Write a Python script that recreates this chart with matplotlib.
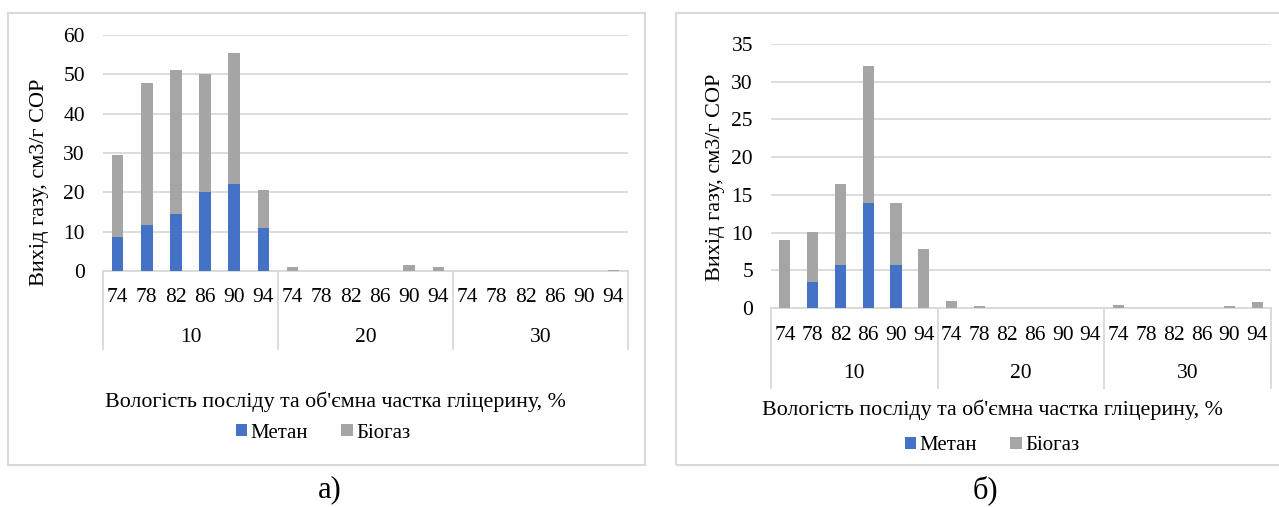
import numpy as np
import matplotlib
matplotlib.use("Agg")
import matplotlib.pyplot as plt
from matplotlib.patches import Rectangle
from matplotlib.lines import Line2D

plt.rcParams['font.family'] = ['Liberation Serif', 'DejaVu Serif']

W, H = 1279, 507

# moisture of the litter (%) inside each glycerol share group (%)
moisture = ["74", "78", "82", "86", "90", "94"]
glycerol = ["10", "20", "30"]

# panel a) gas yield, cm3/g COP
methaneA = [8.7, 11.7, 14.4, 20.0, 22.0, 11.0,
            0, 0, 0, 0, 0, 0,
            0, 0, 0, 0, 0, 0]
biogasA = [20.8, 36.0, 36.6, 30.0, 33.3, 9.6,
           1.0, 0, 0, 0, 1.5, 1.1,
           0, 0, 0, 0, 0, 0.3]

# panel б)
methaneB = [0, 3.5, 5.65, 13.9, 5.65, 0,
            0, 0, 0, 0, 0, 0,
            0, 0, 0, 0, 0, 0]
biogasB = [9.0, 6.55, 10.75, 18.2, 8.25, 7.8,
           0.9, 0.25, 0, 0, 0, 0,
           0.4, 0, 0, 0, 0.25, 0.75]

BLUE = "#4472C4"
GREY = "#A5A5A5"
LINE = "#D9D9D9"


def figRect(x0, y0, x1, y1):
    # pixel box (top-left origin) -> figure fraction
    return [x0 / W, 1 - y1 / H, (x1 - x0) / W, (y1 - y0) / H]


def drawPanel(fig, box, methane, biogas, ymax, ystep, tickRow, groupRow, lineEnd,
              ylab, xlab, legY, legX, tag, tagX):
    x0, y0, x1, y1 = box
    ax = fig.add_axes(figRect(x0, y0, x1, y1))
    n = len(methane)
    pos = np.arange(n)
    ax.bar(pos, methane, width=0.4, color=BLUE, label="Метан", zorder=3)
    ax.bar(pos, biogas, width=0.4, bottom=methane, color=GREY, label="Біогаз", zorder=3)
    ax.set_xlim(-0.5, n - 0.5)
    ax.set_ylim(0, ymax)
    ax.set_yticks(np.arange(0, ymax + 0.1, ystep))
    ax.yaxis.grid(True, color=LINE, lw=1.3, zorder=0)
    ax.set_axisbelow(True)
    for s in ["top", "right", "left"]:
        ax.spines[s].set_visible(False)
    ax.spines["bottom"].set_color(LINE)
    ax.spines["bottom"].set_linewidth(1.3)
    ax.set_xticks([])
    ax.tick_params(axis="y", length=0, pad=13, labelsize=15.5)

    axH = y1 - y0
    # two-level category labels
    labels = moisture * len(glycerol)
    for i in range(n):
        ax.text(i, -(tickRow - y1) / axH, labels[i], transform=ax.get_xaxis_transform(),
                ha="center", va="center", fontsize=15.5)
    for g in range(len(glycerol)):
        ax.text(g * 6 + 2.5, -(groupRow - y1) / axH, glycerol[g],
                transform=ax.get_xaxis_transform(), ha="center", va="center", fontsize=15.5)
    for g in range(len(glycerol) + 1):
        ax.add_line(Line2D([g * 6 - 0.5, g * 6 - 0.5], [0, -(lineEnd - y1) / axH],
                           transform=ax.get_xaxis_transform(), color=LINE, lw=1.3,
                           clip_on=False))

    fig.text(ylab[0] / W, 1 - ylab[1] / H, "Вихід газу, см3/г СОР", rotation=90,
             ha="center", va="center", fontsize=16)
    fig.text(xlab[0] / W, 1 - xlab[1] / H,
             "Вологість посліду та об'ємна частка гліцерину, %",
             ha="center", va="center", fontsize=15.8)
    fig.legend(*ax.get_legend_handles_labels(), loc="center", ncol=2,
               bbox_to_anchor=(legX / W, 1 - legY / H), frameon=False, fontsize=15,
               handlelength=0.55, handleheight=0.55, handletextpad=0.15, columnspacing=1.6)
    fig.text(tagX / W, 1 - 490 / H, tag, ha="center", va="center", fontsize=22)
    return ax


fig = plt.figure(figsize=(W / 100, H / 100), dpi=100)

# chart frames
fig.patches.append(Rectangle((8 / W, 1 - 465 / H), 637 / W, 452 / H, transform=fig.transFigure,
                             fill=False, edgecolor=LINE, lw=1.5))
fig.patches.append(Rectangle((676 / W, 1 - 465 / H), 620 / W, 452 / H, transform=fig.transFigure,
                             fill=False, edgecolor=LINE, lw=1.5))

drawPanel(fig, (103, 35, 628, 271), methaneA, biogasA, 60, 10,
          297, 337, 349, (40, 182), (335, 402), 433, 323, "а)", 330)
drawPanel(fig, (771, 44, 1271, 308), methaneB, biogasB, 35, 5,
          335, 374, 388, (715, 177), (992, 410), 446, 992, "б)", 985)

fig.savefig("out.png", dpi=100)
